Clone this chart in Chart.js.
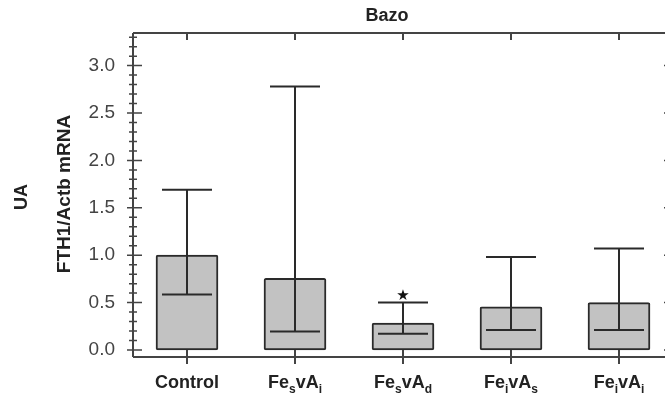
<!DOCTYPE html>
<html>
<head>
<meta charset="utf-8">
<script src="https://cdn.jsdelivr.net/npm/chart.js@4"></script>
<style>
  html, body { margin: 0; padding: 0; background: #fff; overflow: hidden; }
  #wrap { width: 680px; height: 396px; }
</style>
</head>
<body>
<div id="wrap"><canvas id="fthChart" width="680" height="396"></canvas></div>
<script>
// "_x" marks a subscript character
const categories = ["Control", "Fe_svA_i", "Fe_svA_d", "Fe_ivA_s", "Fe_ivA_i"];
const boxTop = [1.00, 0.755, 0.285, 0.455, 0.50];
const medians = [0.585, 0.195, 0.17, 0.21, 0.21];
const whiskerTop = [1.69, 2.78, 0.50, 0.98, 1.07];
const starred = [false, false, true, false, false];
const yTicks = [0, 0.5, 1.0, 1.5, 2.0, 2.5, 3.0];
const yMinor = 0.1;

const ink = "#2a2a2a";
const axisInk = "#444";
const labelFont = "Liberation Sans, Arial, sans-serif";

function splitLabel(text) {
  const parts = [];
  for (let i = 0; i < text.length; i++) {
    if (text[i] === "_") {
      parts.push({ t: text[i + 1], sub: true });
      i++;
    } else if (parts.length && !parts[parts.length - 1].sub) {
      parts[parts.length - 1].t += text[i];
    } else {
      parts.push({ t: text[i], sub: false });
    }
  }
  return parts;
}

function drawLabel(ctx, text, cx, baseline) {
  const parts = splitLabel(text);
  const fontOf = (p) => p.sub ? "bold 12px " + labelFont : "bold 18px " + labelFont;
  let total = 0;
  parts.forEach((p) => { ctx.font = fontOf(p); p.w = ctx.measureText(p.t).width; total += p.w; });
  let x = cx - total / 2;
  parts.forEach((p) => {
    ctx.font = fontOf(p);
    ctx.fillText(p.t, x, p.sub ? baseline + 5 : baseline);
    x += p.w;
  });
}

const boxExtras = {
  id: "boxExtras",
  afterDatasetsDraw(chart) {
    const { ctx, chartArea: area, scales: { x, y } } = chart;
    ctx.save();
    ctx.lineCap = "butt";

    // frame
    ctx.strokeStyle = axisInk;
    ctx.lineWidth = 2;
    ctx.beginPath();
    ctx.moveTo(area.left, area.top);
    ctx.lineTo(area.left, area.bottom);
    ctx.moveTo(area.left, area.top);
    ctx.lineTo(chart.width, area.top);
    ctx.moveTo(area.left, area.bottom);
    ctx.lineTo(chart.width, area.bottom);
    ctx.moveTo(area.right, area.top);
    ctx.lineTo(area.right, area.bottom);
    ctx.stroke();

    // y tick marks crossing the axis
    ctx.lineWidth = 1.5;
    ctx.beginPath();
    for (let v = yMinor; v <= y.max; v += yMinor) {
      const r = Math.round(v * 10) / 10;
      if (yTicks.includes(r)) continue;
      const py = y.getPixelForValue(r);
      ctx.moveTo(area.left - 4, py);
      ctx.lineTo(area.left + 4, py);
    }
    yTicks.forEach((v) => {
      const py = y.getPixelForValue(v);
      ctx.moveTo(area.left - 6, py);
      ctx.lineTo(area.left + 9, py);
      ctx.moveTo(area.right - 9, py);
      ctx.lineTo(area.right, py);
    });
    ctx.stroke();

    // category ticks, top and bottom
    ctx.lineWidth = 2;
    ctx.beginPath();
    categories.forEach((c, i) => {
      const px = x.getPixelForValue(i);
      ctx.moveTo(px, area.top);
      ctx.lineTo(px, area.top + 7);
      ctx.moveTo(px, y.getPixelForValue(0));
      ctx.lineTo(px, area.bottom + 7);
    });
    ctx.stroke();

    // whiskers and medians
    ctx.strokeStyle = ink;
    ctx.lineWidth = 2;
    ctx.beginPath();
    categories.forEach((c, i) => {
      const px = x.getPixelForValue(i);
      const pm = y.getPixelForValue(medians[i]);
      const pw = y.getPixelForValue(whiskerTop[i]);
      ctx.moveTo(px - 25, pm);
      ctx.lineTo(px + 25, pm);
      ctx.moveTo(px, pm);
      ctx.lineTo(px, pw);
      ctx.moveTo(px - 25, pw);
      ctx.lineTo(px + 25, pw);
    });
    ctx.stroke();

    // significance star
    ctx.fillStyle = "#111";
    ctx.textAlign = "center";
    ctx.textBaseline = "alphabetic";
    ctx.font = "15px DejaVu Sans";
    categories.forEach((c, i) => {
      if (starred[i]) ctx.fillText("\u2605", x.getPixelForValue(i), y.getPixelForValue(whiskerTop[i]) - 3);
    });

    // category labels
    ctx.fillStyle = "#222";
    ctx.textAlign = "left";
    categories.forEach((c, i) => drawLabel(ctx, c, x.getPixelForValue(i), 388));

    // titles
    ctx.textAlign = "center";
    ctx.textBaseline = "middle";
    ctx.font = "bold 18px " + labelFont;
    ctx.fillText("Bazo", 387, 16);
    ctx.save();
    ctx.translate(65, 194);
    ctx.rotate(-Math.PI / 2);
    ctx.font = "bold 19px " + labelFont;
    ctx.fillText("FTH1/Actb mRNA", 0, 0);
    ctx.restore();
    ctx.save();
    ctx.translate(22, 197);
    ctx.rotate(-Math.PI / 2);
    ctx.font = "bold 18px " + labelFont;
    ctx.fillText("UA", 0, 0);
    ctx.restore();

    ctx.restore();
  }
};

const canvas = document.getElementById("fthChart");

new Chart(canvas.getContext("2d"), {
  type: "bar",
  data: {
    labels: categories,
    datasets: [
      {
        data: boxTop,
        backgroundColor: "#c2c2c2",
        borderColor: ink,
        borderWidth: 2,
        borderSkipped: false,
        borderRadius: 2,
        barThickness: 62
      }
    ]
  },
  options: {
    responsive: false,
    animation: false,
    devicePixelRatio: 1,
    layout: { padding: { top: 33, bottom: 39, left: 0, right: 7 } },
    plugins: {
      legend: { display: false },
      tooltip: { enabled: false }
    },
    scales: {
      x: { type: "category", display: false },
      y: {
        min: -0.074,
        max: 3.344,
        afterFit(scale) { scale.width = 133; },
        afterBuildTicks(scale) { scale.ticks = yTicks.map((v) => ({ value: v })); },
        grid: { display: false, drawTicks: false },
        border: { display: false },
        ticks: {
          padding: 18,
          color: "#444",
          font: { family: labelFont, size: 19 },
          callback: (value) => Number(value).toFixed(1)
        }
      }
    }
  },
  plugins: [boxExtras]
});
</script>
</body>
</html>
